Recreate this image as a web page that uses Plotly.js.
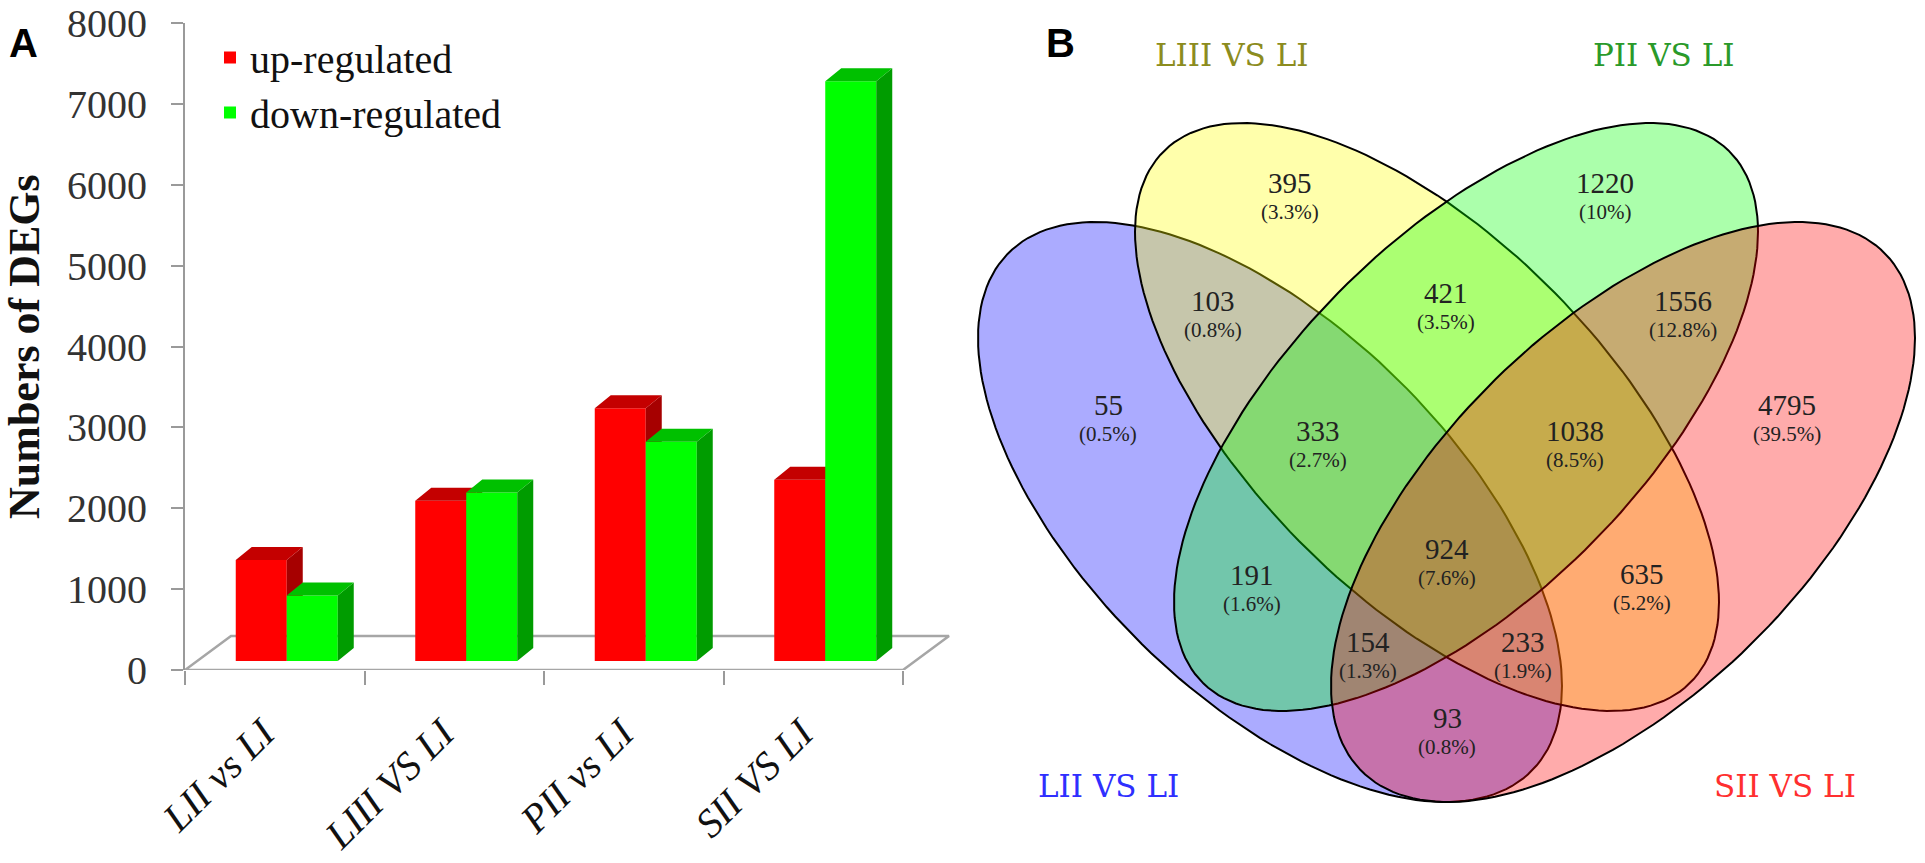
<!DOCTYPE html>
<html>
<head>
<meta charset="utf-8">
<script src="https://cdn.plot.ly/plotly-3.0.1.min.js"></script>
<style>html,body{margin:0;padding:0;background:#fff}</style>
</head>
<body>
<div id="chart" style="width:1925px;height:863px"></div>
<script>
// ---- Panel A data ----
let comparisons = ['LII vs LI', 'LIII VS LI', 'PII vs LI', 'SII VS LI'];
let upRegulated = [1250, 1980, 3125, 2240];
let downRegulated = [810, 2085, 2710, 7170];
let valueTicks = [0, 1000, 2000, 3000, 4000, 5000, 6000, 7000, 8000];

// ---- Panel B data ----
let vennSets = ['LII VS LI', 'LIII VS LI', 'PII VS LI', 'SII VS LI'];
let vennCounts = [55, 395, 1220, 4795, 103, 421, 1556, 333, 1038, 191, 924, 635, 154, 233, 93];
let vennPercents = ['0.5%', '3.3%', '10%', '39.5%', '0.8%', '3.5%', '12.8%', '2.7%', '8.5%', '1.6%', '7.6%', '5.2%', '1.3%', '1.9%', '0.8%'];

// ---- page geometry (pixels) ----
const W = 1925, H = 863;
const AX_LEFT = 185, AX_RIGHT = 950, AX_BOTTOM = 670, AX_TOP = 23;
const CAT_PX = 179.5;                          // pixels per category
const VAL_PX = (AX_BOTTOM - AX_TOP) / 8000;    // pixels per gene
const px2x = p => p / CAT_PX;
const px2y = p => p / VAL_PX;

const X_RANGE = [-0.5, -0.5 + px2x(AX_RIGHT - AX_LEFT)];
const BAR_W = px2x(51);
// bars stand a little behind the front edge of the floor
const PLANE_DX = px2x(12), PLANE_DY = px2y(9);
// depth of a bar and of the floor
const DEPTH_X = px2x(16), DEPTH_Y = px2y(13);
const FLOOR_DX = px2x(46), FLOOR_DY = px2y(34);

const red = {front: '#ff0000', top: '#c40000', side: '#a60000'};
const green = {front: '#00ff00', top: '#00c000', side: '#009c00'};

function faceTraces(values, offset, colors, xa, ya) {
    let side = {x: [], y: []}, top = {x: [], y: []};
    values.forEach(function (v, i) {
        let xl = i + offset, xr = xl + BAR_W;
        top.x.push(xl, xl + DEPTH_X, xr + DEPTH_X, xr, xl, null);
        top.y.push(v, v + DEPTH_Y, v + DEPTH_Y, v, v, null);
        side.x.push(xr, xr + DEPTH_X, xr + DEPTH_X, xr, xr, null);
        side.y.push(0, DEPTH_Y, v + DEPTH_Y, v, 0, null);
    });
    let base = {type: 'scatter', mode: 'none', fill: 'toself', xaxis: xa, yaxis: ya,
                hoverinfo: 'skip', showlegend: false};
    return [
        Object.assign({}, base, side, {fillcolor: colors.side}),
        Object.assign({}, base, top, {fillcolor: colors.top})
    ];
}

let catIndex = comparisons.map((c, i) => i);

// floor of the 3D chart
let floor = {
    type: 'scatter', mode: 'lines', xaxis: 'x', yaxis: 'y',
    x: [-0.5, 3.5, 3.5 + FLOOR_DX, -0.5 + FLOOR_DX, -0.5],
    y: [0, 0, FLOOR_DY, FLOOR_DY, 0],
    line: {color: '#a6a6a6', width: 2.5},
    cliponaxis: false, hoverinfo: 'skip', showlegend: false
};

let upBars = {
    type: 'bar', name: 'up-regulated', legendgroup: 'up',
    x: catIndex, y: upRegulated, offset: -BAR_W, width: BAR_W,
    xaxis: 'x2', yaxis: 'y2',
    marker: {color: red.front, line: {width: 0}}, hoverinfo: 'y'
};
let downBars = {
    type: 'bar', name: 'down-regulated', legendgroup: 'down',
    x: catIndex, y: downRegulated, offset: 0, width: BAR_W,
    xaxis: 'x3', yaxis: 'y3',
    marker: {color: green.front, line: {width: 0}}, hoverinfo: 'y'
};

// ---- Venn geometry (pixel frame) ----
// centre, half width, half height, correlation of each ellipse
let ellipses = [
    {cx: 1270, cy: 512, w: 292, h: 290, r: 0.60, fill: 'rgba(0,0,255,0.33)'},
    {cx: 1427, cy: 417, w: 292, h: 294, r: 0.63, fill: 'rgba(255,255,0,0.33)'},
    {cx: 1466, cy: 417, w: 292, h: 294, r: -0.63, fill: 'rgba(0,255,0,0.33)'},
    {cx: 1623, cy: 512, w: 292, h: 290, r: -0.60, fill: 'rgba(255,0,0,0.33)'}
];
let vennTraces = ellipses.map(function (e, k) {
    let xs = [], ys = [];
    let s = Math.sqrt(1 - e.r * e.r);
    for (let j = 0; j <= 180; j++) {
        let t = 2 * Math.PI * j / 180;
        xs.push(e.cx + e.w * Math.cos(t));
        ys.push(e.cy + e.h * (e.r * Math.cos(t) + s * Math.sin(t)));
    }
    return {
        type: 'scatter', mode: 'lines', fill: 'toself', x: xs, y: ys,
        xaxis: 'x4', yaxis: 'y4', name: vennSets[k],
        fillcolor: e.fill, line: {color: '#000', width: 2},
        hoverinfo: 'skip', showlegend: false
    };
});

// label positions of each region (centre between count and percent)
let regionPos = [
    [1108, 420], [1290, 198], [1605, 198], [1787, 420],
    [1213, 316], [1446, 308], [1683, 316],
    [1318, 446], [1575, 446],
    [1252, 590], [1447, 564], [1642, 589],
    [1368, 657], [1523, 657], [1447, 733]
];
let setLabelPos = [[1108, 786], [1232, 55], [1664, 55], [1785, 786]];
let setColors = ['#2f2fff', '#8c8c1e', '#2a9a2a', '#ff2f2f'];

let annotations = [];
vennCounts.forEach(function (c, i) {
    annotations.push({xref: 'x4', yref: 'y4', x: regionPos[i][0], y: regionPos[i][1] - 15,
        text: String(c), showarrow: false, xanchor: 'center', yanchor: 'middle',
        font: {family: 'Liberation Serif', size: 29, color: '#222'}});
    annotations.push({xref: 'x4', yref: 'y4', x: regionPos[i][0], y: regionPos[i][1] + 14,
        text: '(' + vennPercents[i] + ')', showarrow: false, xanchor: 'center', yanchor: 'middle',
        font: {family: 'Liberation Serif', size: 21, color: '#222'}});
});
vennSets.forEach(function (s, k) {
    annotations.push({xref: 'x4', yref: 'y4', x: setLabelPos[k][0], y: setLabelPos[k][1],
        text: s, showarrow: false, xanchor: 'center', yanchor: 'middle',
        font: {family: 'DejaVu Serif', size: 31, color: setColors[k]}});
});
// panel letters and y title
annotations.push({xref: 'paper', yref: 'paper', x: 23 / W, y: 1 - 43 / H, text: '<b>A</b>',
    xanchor: 'center', yanchor: 'middle',
    showarrow: false, font: {family: 'Liberation Sans', size: 40, color: '#000'}});
annotations.push({xref: 'paper', yref: 'paper', x: 1060 / W, y: 1 - 43 / H, text: '<b>B</b>',
    xanchor: 'center', yanchor: 'middle',
    showarrow: false, font: {family: 'Liberation Sans', size: 40, color: '#000'}});
annotations.push({xref: 'paper', yref: 'paper', x: 24 / W, y: 1 - 347 / H, text: '<b>Numbers of DEGs</b>',
    xanchor: 'center', yanchor: 'middle',
    textangle: -90, showarrow: false, font: {family: 'Liberation Serif', size: 44, color: '#111'}});

let data = [floor]
    .concat(faceTraces(upRegulated, -BAR_W, red, 'x2', 'y2'), [upBars])
    .concat(faceTraces(downRegulated, 0, green, 'x3', 'y3'), [downBars])
    .concat(vennTraces);

let xDomain = [AX_LEFT / W, AX_RIGHT / W];
let yDomain = [1 - AX_BOTTOM / H, 1 - AX_TOP / H];
let shiftedX = [X_RANGE[0] - PLANE_DX, X_RANGE[1] - PLANE_DX];
let shiftedY = [-PLANE_DY, 8000 - PLANE_DY];
let hidden = {visible: false, fixedrange: true, showgrid: false, zeroline: false};

let layout = {
    width: W, height: H,
    margin: {l: 0, r: 0, t: 0, b: 0},
    paper_bgcolor: '#fff', plot_bgcolor: 'rgba(0,0,0,0)',
    showlegend: true,
    legend: {
        x: 210 / W, y: 1 - 25 / H, xanchor: 'left', yanchor: 'top',
        font: {family: 'Liberation Serif', size: 40, color: '#111'},
        bgcolor: 'rgba(0,0,0,0)', tracegroupgap: 6, traceorder: 'normal'
    },
    xaxis: {
        domain: xDomain, range: X_RANGE, fixedrange: true,
        tickmode: 'array', tickvals: catIndex, ticktext: comparisons,
        tickangle: -45, ticks: '', ticklabelstandoff: 31, ticklabelshift: -12,
        tickfont: {family: 'Liberation Serif', size: 40, style: 'italic', color: '#111'},
        showgrid: false, zeroline: false, showline: false,
        minor: {tickmode: 'array', tickvals: [-0.5, 0.5, 1.5, 2.5, 3.5],
                ticks: 'outside', ticklen: 14, tickwidth: 2, tickcolor: '#9a9a9a', showgrid: false}
    },
    yaxis: {
        domain: yDomain, range: [0, 8000], fixedrange: true,
        tickmode: 'array', tickvals: valueTicks,
        ticks: 'outside', ticklen: 12, tickwidth: 2, tickcolor: '#9a9a9a',
        showline: true, linecolor: '#9a9a9a', linewidth: 2,
        ticklabelstandoff: 16,
        tickfont: {family: 'Liberation Serif', size: 40, color: '#333'},
        showgrid: false, zeroline: false
    },
    xaxis2: Object.assign({overlaying: 'x', range: shiftedX}, hidden),
    yaxis2: Object.assign({overlaying: 'y', range: shiftedY}, hidden),
    xaxis3: Object.assign({overlaying: 'x', range: shiftedX}, hidden),
    yaxis3: Object.assign({overlaying: 'y', range: shiftedY}, hidden),
    xaxis4: Object.assign({domain: [962.5 / W, 1], range: [962.5, W], anchor: 'y4'}, hidden),
    yaxis4: Object.assign({domain: [0, 1], range: [H, 0], anchor: 'x4'}, hidden),
    annotations: annotations
};

let config = {displayModeBar: false, staticPlot: true};

Plotly.newPlot(document.getElementById('chart'), data, layout, config);
</script>
</body>
</html>
